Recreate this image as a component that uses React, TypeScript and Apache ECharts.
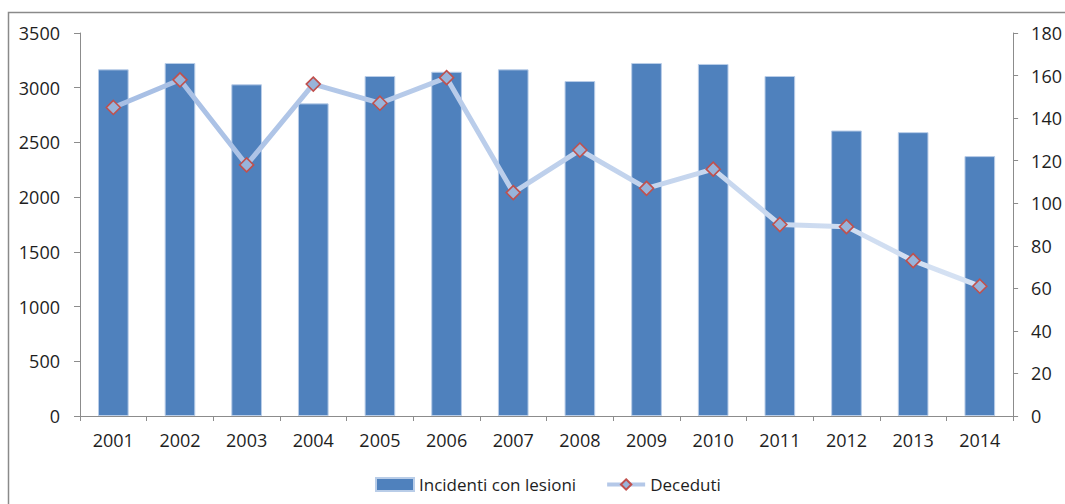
import React, { useEffect, useRef } from "react";
import * as echarts from "echarts";

const years = ["2001","2002","2003","2004","2005","2006","2007","2008","2009","2010","2011","2012","2013","2014"];
const incidenti = [3168, 3226, 3031, 2857, 3107, 3146, 3168, 3061, 3226, 3217, 3107, 2609, 2594, 2375];
const deceduti = [145, 158, 118, 156, 147, 159, 105, 125, 107, 116, 90, 89, 73, 61];
const seriesNames = ["Incidenti con lesioni", "Deceduti"];

const FONT = "'Open Sans', 'Noto Sans', sans-serif";
const AXIS_GRAY = "#8c8c8c";
const TEXT = "#1e1e1e";

export default function App() {
  const ref = useRef<HTMLDivElement>(null);
  useEffect(() => {
    if (!ref.current) return;
    const chart = echarts.init(ref.current, undefined, { renderer: "svg" });
    chart.setOption({
      animation: false,
      backgroundColor: "#ffffff",
      textStyle: { fontFamily: FONT },
      graphic: [
        {
          type: "rect",
          shape: { x: 8.5, y: 12.5, width: 1100, height: 600 },
          style: { fill: "none", stroke: "#8a8a8a", lineWidth: 1.5 },
          silent: true,
        },
      ],
      grid: { left: 80, right: 50, top: 33, bottom: 88, containLabel: false },
      legend: {
        left: 375,
        top: 476,
        padding: 0,
        itemGap: 29,
        itemWidth: 38,
        itemHeight: 13,
        textStyle: { fontFamily: FONT, fontSize: 17, color: TEXT },
        data: [
          { name: seriesNames[0], icon: "rect" },
          {
            name: seriesNames[1],
            lineStyle: { color: "#B4C8E8", width: 4 },
          },
        ],
      },
      xAxis: {
        type: "category",
        data: years,
        boundaryGap: true,
        axisLine: { lineStyle: { color: AXIS_GRAY, width: 1 } },
        axisTick: { show: true, alignWithLabel: false, length: 5, lineStyle: { color: AXIS_GRAY } },
        axisLabel: { fontFamily: FONT, fontSize: 18, color: TEXT, margin: 15 },
        splitLine: { show: false },
      },
      yAxis: [
        {
          type: "value",
          min: 0,
          max: 3500,
          interval: 500,
          axisLine: { show: true, lineStyle: { color: AXIS_GRAY, width: 1 } },
          axisTick: { show: true, length: 6, lineStyle: { color: AXIS_GRAY } },
          axisLabel: { fontFamily: FONT, fontSize: 18, color: TEXT, margin: 20, formatter: (v: number) => String(v) },
          splitLine: { show: false },
        },
        {
          type: "value",
          min: 0,
          max: 180,
          interval: 20,
          position: "right",
          axisLine: { show: true, lineStyle: { color: AXIS_GRAY, width: 1 } },
          axisTick: { show: true, length: 5, lineStyle: { color: AXIS_GRAY } },
          axisLabel: { fontFamily: FONT, fontSize: 18, color: TEXT, margin: 18, formatter: (v: number) => String(v) },
          splitLine: { show: false },
        },
      ],
      series: [
        {
          name: seriesNames[0],
          type: "bar",
          data: incidenti,
          yAxisIndex: 0,
          barCategoryGap: "54%",
          itemStyle: { color: "#4F81BD", borderColor: "#B9CDE8", borderWidth: 1 },
        },
        {
          name: seriesNames[1],
          type: "line",
          data: deceduti,
          yAxisIndex: 1,
          symbol: "diamond",
          symbolSize: 14,
          lineStyle: {
            width: 5,
            color: new echarts.graphic.LinearGradient(0, 0, 1, 0, [
              { offset: 0, color: "#A6BEE4" },
              { offset: 1, color: "#D6E2F3" },
            ]),
          },
          itemStyle: { color: "#98B4DA", borderColor: "#C0504D", borderWidth: 1.6 },
          z: 3,
        },
      ],
    });
    return () => chart.dispose();
  }, []);
  return (
    <div
      ref={ref}
      style={{ position: "absolute", left: 0, top: 0, width: 1065, height: 504 }}
    />
  );
}
